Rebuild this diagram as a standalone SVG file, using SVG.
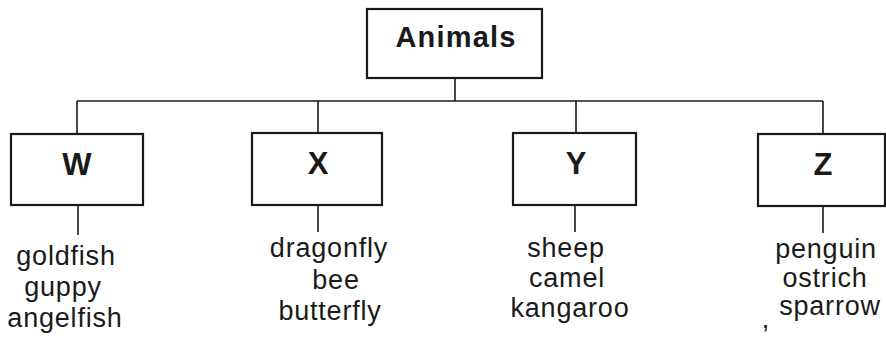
<svg xmlns="http://www.w3.org/2000/svg" width="886" height="338" viewBox="0 0 886 338">
<style>
.box{fill:#fff;stroke:#1a1a1a;stroke-width:2.2}
.ln{stroke:#1a1a1a;stroke-width:1.6;fill:none}
.title{font-family:"Liberation Sans",Arial,sans-serif;font-weight:bold;font-size:29px;letter-spacing:1.2px;fill:#1a1a1a;text-anchor:middle}
.cat{font-family:"Liberation Sans",Arial,sans-serif;font-weight:bold;font-size:31px;fill:#1a1a1a;text-anchor:middle}
.item{font-family:"Liberation Sans",Arial,sans-serif;font-size:27px;letter-spacing:0.8px;fill:#1a1a1a;text-anchor:middle}
</style>
<rect width="886" height="338" fill="#fff"/>
<g id="connectors">
<line class="ln" x1="455" y1="78" x2="455" y2="101"/>
<line class="ln" x1="77" y1="101" x2="823" y2="101"/>
<line class="ln" x1="77" y1="101" x2="77" y2="134"/>
<line class="ln" x1="318" y1="101" x2="318" y2="133"/>
<line class="ln" x1="576" y1="101" x2="576" y2="133"/>
<line class="ln" x1="823" y1="101" x2="823" y2="134"/>
<line class="ln" x1="78" y1="205" x2="78" y2="235"/>
<line class="ln" x1="318" y1="205" x2="318" y2="232"/>
<line class="ln" x1="575" y1="205" x2="575" y2="232"/>
<line class="ln" x1="823" y1="206" x2="823" y2="233"/>
</g>
<g id="animals">
<rect class="box" x="367" y="9" width="175" height="69"/>
<text class="title" x="456" y="47">Animals</text>
</g>
<g id="W">
<rect class="box" x="11" y="134" width="132" height="71"/>
<text class="cat" x="77" y="175">W</text>
<text class="item" x="66" y="265">goldfish</text>
<text class="item" x="63" y="296">guppy</text>
<text class="item" x="65" y="327">angelfish</text>
</g>
<g id="X">
<rect class="box" x="252" y="133" width="130" height="72"/>
<text class="cat" x="318" y="174">X</text>
<text class="item" x="329" y="257">dragonfly</text>
<text class="item" x="336" y="289">bee</text>
<text class="item" x="330" y="320">butterfly</text>
</g>
<g id="Y">
<rect class="box" x="513" y="133" width="123" height="72"/>
<text class="cat" x="576" y="174">Y</text>
<text class="item" x="566" y="257">sheep</text>
<text class="item" x="567" y="287">camel</text>
<text class="item" x="570" y="317">kangaroo</text>
</g>
<g id="Z">
<rect class="box" x="758" y="134" width="127" height="72"/>
<text class="cat" x="823" y="175">Z</text>
<text class="item" x="826" y="258">penguin</text>
<text class="item" x="825" y="287">ostrich</text>
<text class="item" x="830" y="315">sparrow</text>
<text class="item" x="766" y="328">,</text>
</g>
</svg>
